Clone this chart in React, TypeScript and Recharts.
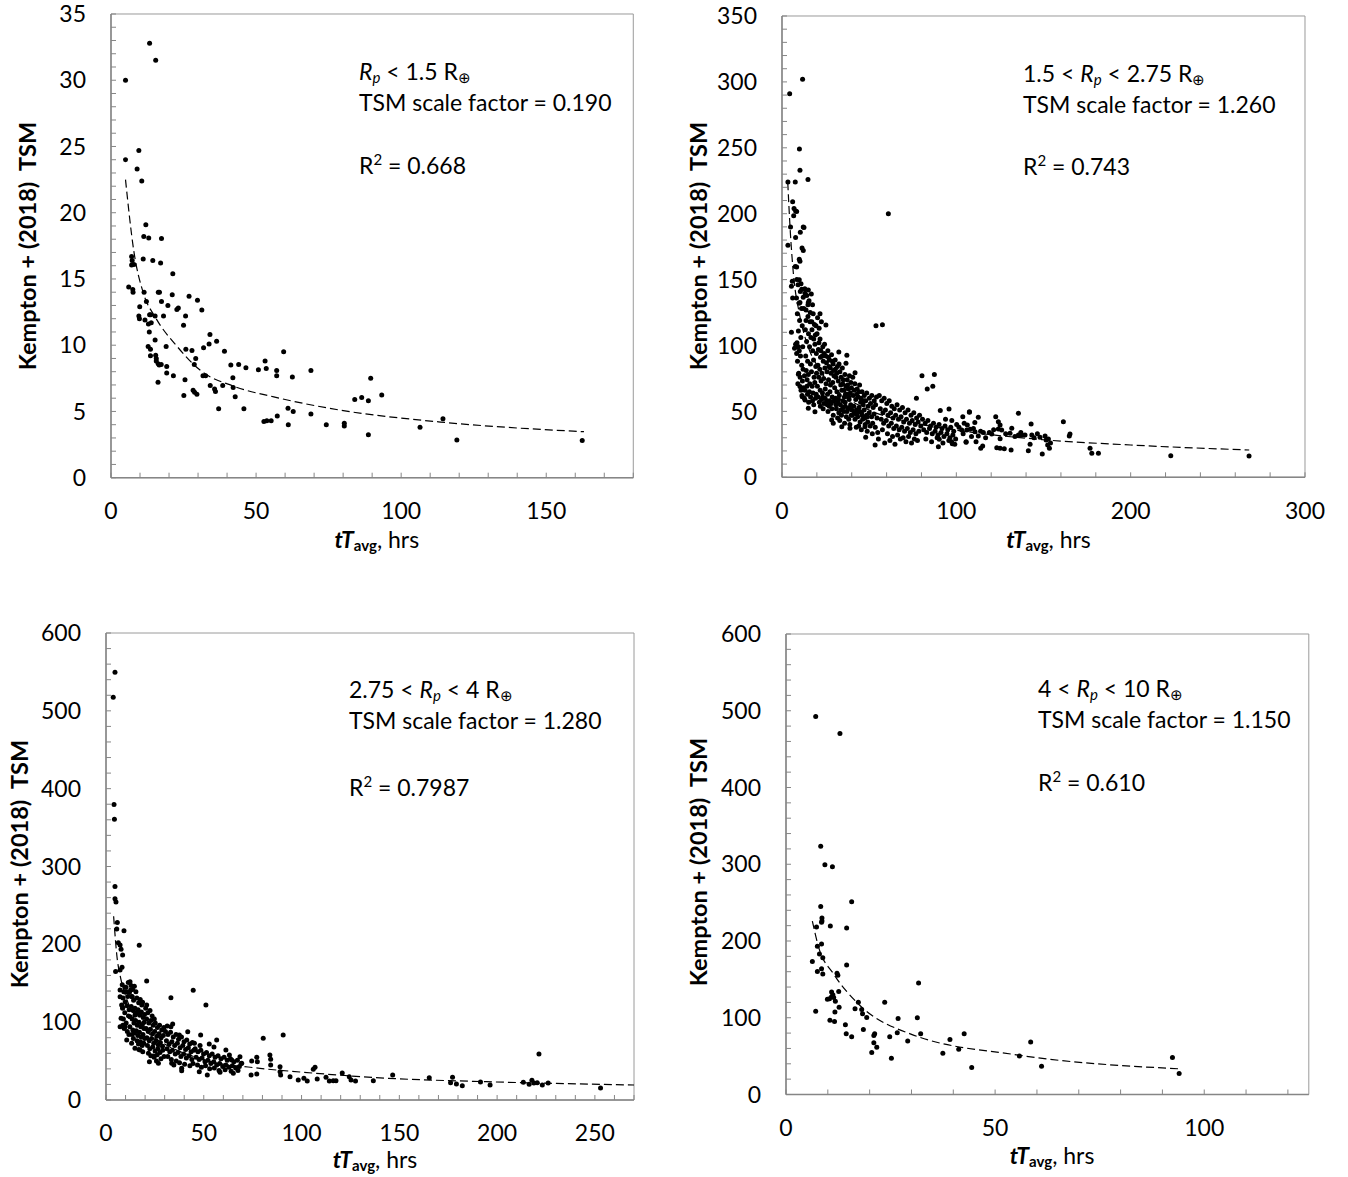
import React from 'react'
import { ScatterChart, Scatter, XAxis, YAxis, ReferenceArea } from 'recharts'

type Pt = [number, number]

const FONT = 'Lato, "Open Sans", sans-serif'

// ---- Rp < 1.5 Re ----
const smallPlanets: Pt[] = [
  [5, 30], [13.3, 32.8], [15.4, 31.5], [5, 24], [9.6, 24.7], [9, 23.3], [10.6, 22.4], [12, 19.1],
  [11.3, 18.2], [13, 18.1], [17.4, 18.05], [7.1, 16.7], [7.3, 16.4], [7.1, 16.05], [7.9, 16.1],
  [11.1, 16.5], [14.4, 16.4], [17.1, 16.2], [21.3, 15.4], [6.1, 14.4], [7.5, 14.2], [7.6, 14],
  [11.4, 14], [16.3, 14], [16.7, 14], [21.1, 13.8], [26.9, 13.7], [29.8, 13.4], [17.4, 13.3],
  [12.2, 13.3], [19.6, 13], [22.7, 12.7], [23.2, 12.8], [31.3, 12.65], [9.9, 12.9], [13.3, 12.3],
  [13.7, 12.3], [15.2, 12.2], [18.1, 12.2], [25.7, 12.2], [9.6, 12.2], [9.8, 12], [11.7, 11.9],
  [12.9, 11.6], [13.9, 11.7], [25, 11.5], [13.2, 11], [34.1, 10.8], [15.2, 10.4], [36.4, 10.3],
  [33.8, 10.1], [12.8, 9.9], [13.6, 9.7], [19, 9.9], [25.8, 9.7], [31.9, 9.8], [27.9, 9.6],
  [39.1, 9.55], [59.5, 9.5], [13.6, 9.2], [15.4, 9.25], [15.6, 9], [29.2, 9], [15.6, 8.8],
  [16.2, 8.6], [16.6, 8.5], [17.3, 8.55], [28.7, 8.55], [19.2, 8.4], [53.1, 8.8], [41.3, 8.5],
  [44, 8.55], [46.5, 8.3], [50.8, 8.15], [53.5, 8.25], [57.1, 8.1], [57.1, 7.7], [68.9, 8.1],
  [19.2, 7.9], [21.5, 7.7], [31.7, 7.7], [32.6, 7.7], [42, 7.55], [62.5, 7.6], [89.5, 7.5],
  [16.2, 7.2], [25.5, 7.4], [34.2, 6.95], [38.5, 6.95], [42.1, 6.8], [35.7, 6.7], [36, 6.5],
  [28.3, 6.6], [28.8, 6.45], [29.6, 6.3], [25.1, 6.2], [42.8, 6.1], [93.3, 6.25], [84, 5.9],
  [86.4, 6.05], [88.7, 5.8], [37.1, 5.2], [45.8, 5.2], [61, 5.25], [62.8, 5], [68.9, 4.8],
  [57.3, 4.65], [114.4, 4.45], [52.7, 4.25], [53.7, 4.3], [55.2, 4.3], [61.1, 4], [74.2, 4],
  [80.4, 4.1], [80.4, 3.9], [106.5, 3.8], [88.7, 3.25], [119.2, 2.85], [162.4, 2.8],
]
const smallFit: Pt[] = [
  [5, 22.5], [7.8, 17.2], [11.2, 13.9], [15.3, 12.1], [22.8, 9.9], [30.8, 8.1], [42.3, 6.9],
  [56.1, 6.1], [79, 5.1], [113.6, 4.2], [163, 3.47],
]

// ---- 1.5 < Rp < 2.75 Re ----
const superEarths: Pt[] = [
  // sparse / outliers
  [4.4, 291], [11.8, 302], [10, 249], [10.3, 233], [14.9, 226], [3.4, 224], [7.6, 224], [61, 200],
  [6.1, 209], [6.9, 204], [7.8, 202], [4.9, 190], [12.2, 190], [10.5, 186], [3.4, 176], [11.5, 174],
  [12.2, 172], [7.8, 182], [7.6, 160], [10.3, 164], [5.4, 145], [6.1, 136], [8.3, 136], [5.4, 110],
  [6.7, 198.4], [8.4, 201.7], [12.6, 189.5], [9.9, 165.5], [8.4, 159.5], [5.9, 148.8], [9.9, 149.8],
  [10.9, 146.8], [11.3, 142.7], [15.1, 142.2], [13.2, 139.7], [12.2, 136.7], [10.3, 132.6], [15.1, 132.6],
  [53.9, 115], [57.6, 115.7], [80.3, 77], [87.4, 78], [83.3, 67], [86.5, 69], [77.1, 60], [32.6, 95],
  [37.2, 92.6], [21.8, 124], [25.2, 115.6], [36.7, 86.5], [41.9, 79.4], [53.4, 24.5], [48, 30.4],
  [90.8, 50.6], [95.8, 51.9], [107.5, 49.4], [89.7, 23.2], [90.2, 28.9], [97.3, 27], [97.7, 25.5],
  [105.6, 26.6], [9.4, 78.2], [8.4, 94], [9.4, 99], [10.3, 68.8], [11.6, 61.2], [13.2, 58.7],
  [15.1, 52.4], [18.9, 49.8], [28.5, 43.5], [29.4, 41], [34.3, 38.4], [39, 37.2], [47.6, 38.4],
  [107.5, 49.8], [112.6, 45.5], [103.7, 46], [110.6, 41.5], [106.3, 39.7], [103.1, 35.9], [106, 35.9],
  [107.9, 36.4], [110.7, 34.6], [112.6, 31.4], [115.5, 33.9], [111.3, 27], [105.6, 27], [115.1, 23.8],
  [114, 22], [120.3, 32.9], [122.6, 46], [124.1, 42.2], [125.1, 39.7], [124.1, 36.7], [126, 35.9],
  [125.1, 29.3], [123.2, 22.5], [125.1, 22], [127.5, 21.7], [131.4, 20.7], [131.8, 37.2], [130.8, 33.4],
  [135.6, 32.1], [137.5, 32.1], [139.4, 32.1], [143.3, 32.1], [135.6, 48.6], [142.9, 40.5], [142.3, 25],
  [141.3, 20.2], [148, 30.4], [150.9, 31.4], [151.5, 28.3], [152.4, 24.5], [153.4, 22], [149.3, 17.7],
  [161.4, 42.2], [165.2, 32.9], [164.8, 31.4], [176.7, 22], [177.7, 18.2], [181.5, 18.2], [223, 16.4],
  [267.9, 16.2],
  // dense cloud, x 8-12
  [8.5, 150], [9.2, 146], [10.5, 141], [9.8, 132], [11.2, 128], [8.8, 124], [10.1, 119], [11.6, 115],
  [9.4, 111], [10.8, 106], [8.6, 102], [11.9, 99], [9.9, 96], [10.6, 92], [8.9, 88], [11.3, 85],
  [12.1, 82], [9.6, 79], [10.4, 76], [11.7, 73], [9.1, 71], [12.4, 68], [10.9, 66], [11.5, 62],
  [12.8, 60], [7.2, 98], [7.8, 101],
  // x 12-20
  [13.1, 143], [14.2, 138], [15.5, 134], [16.8, 139], [17.5, 131], [13.8, 127], [14.9, 122], [16.1, 118],
  [17.9, 124], [18.6, 116], [13.4, 112], [15.2, 109], [16.6, 106], [17.2, 112], [19.1, 108], [14.1, 103],
  [15.8, 99], [17.6, 96], [18.9, 101], [19.7, 94], [13.6, 92], [14.7, 88], [16.3, 86], [18.1, 89],
  [19.4, 84], [13.9, 81], [15.1, 78], [16.9, 80], [18.4, 76], [19.8, 79], [14.4, 74], [15.9, 71],
  [17.3, 69], [18.8, 72], [13.2, 66], [14.6, 63], [16.4, 61], [17.8, 64], [19.2, 60], [15.3, 57],
  [18.2, 55], [12.5, 128], [13.8, 119], [14.9, 131], [16.2, 125], [17.1, 118], [18.2, 105], [19.5, 115],
  [12.9, 77], [14.3, 69], [15.7, 65], [17.5, 58], [19.6, 63],
  // x 20-30
  [20.4, 121], [21.3, 113], [22.6, 118], [21.8, 105], [23.4, 99], [24.2, 94], [20.9, 97], [22.1, 91],
  [23.7, 88], [25.1, 92], [26.3, 96], [27.2, 89], [28.4, 93], [29.3, 86], [20.6, 85], [21.7, 82],
  [22.9, 79], [24.6, 83], [25.8, 80], [26.9, 84], [28.1, 79], [29.6, 81], [21.1, 76], [22.4, 73],
  [23.9, 75], [25.3, 71], [26.7, 74], [27.8, 70], [29.1, 72], [20.3, 69], [21.9, 66], [23.2, 64],
  [24.8, 67], [26.1, 63], [27.5, 65], [28.8, 61], [22.7, 59], [24.1, 56], [25.6, 58], [27.1, 54],
  [28.6, 52], [21.4, 57], [23.6, 52], [26.4, 50], [29.4, 47], [20.1, 109], [21.2, 102], [22.3, 96],
  [23.1, 92], [24.4, 101], [25.5, 87], [26.6, 91], [27.7, 83], [28.9, 88], [29.8, 77], [20.7, 61],
  [22, 54], [23.3, 61], [24.7, 60], [26, 55], [27.3, 58], [28.3, 56], [29.9, 58],
  // x 30-50
  [30.5, 89], [31.8, 84], [33.2, 80], [34.6, 83], [36.1, 78], [37.4, 74], [38.7, 77], [39.5, 72],
  [30.9, 76], [32.3, 73], [33.7, 70], [35.2, 74], [36.6, 69], [38.1, 67], [39.2, 64], [30.2, 68],
  [31.5, 65], [32.9, 62], [34.3, 66], [35.8, 61], [37.1, 63], [38.5, 59], [30.7, 60], [32.1, 57],
  [33.5, 55], [34.9, 58], [36.3, 54], [37.8, 52], [39.4, 55], [31.2, 52], [32.6, 49], [34.1, 47],
  [35.5, 50], [36.9, 46], [38.3, 44], [39.7, 47], [33.1, 43], [35.9, 41], [38.9, 40], [31.9, 45],
  [30.6, 82], [31.4, 79], [32.7, 86], [33.9, 76], [34.8, 71], [35.6, 66], [36.4, 63], [37.6, 70],
  [38.4, 61], [39.8, 68], [31, 55], [32.4, 59], [33.8, 51], [35, 53], [36.2, 57], [37.3, 50],
  [38.7, 53], [40, 51], [41.5, 49], [43, 48], [44.6, 50], [46, 47], [47.5, 45], [49, 46],
  [41.4, 66], [42.9, 63], [44.1, 65], [45.3, 60], [46.9, 58],
  // x 40-55
  [40.6, 76], [41.8, 71], [43.1, 67], [44.5, 70], [45.9, 65], [47.2, 62], [48.6, 64], [50.1, 60],
  [51.5, 62], [52.9, 58], [54.2, 61], [40.9, 62], [42.3, 59], [43.7, 61], [45.1, 57], [46.6, 55],
  [48, 58], [49.4, 54], [50.8, 56], [52.3, 53], [53.7, 55], [41.2, 54], [42.7, 51], [44.2, 53],
  [45.6, 49], [47.1, 51], [48.5, 47], [50, 49], [51.4, 46], [52.8, 48], [54.5, 45], [40.4, 47],
  [41.9, 44], [43.4, 46], [44.8, 42], [46.3, 44], [47.7, 40], [49.2, 42], [50.6, 39], [52, 41],
  [53.5, 38], [42.6, 38], [45.5, 36], [48.9, 35], [51.8, 33], [54.9, 34], [44, 39],
  // x 55-80
  [55.8, 62], [57.2, 58], [58.6, 60], [60.1, 56], [61.5, 58], [63, 54], [64.4, 52], [66, 55],
  [67.5, 51], [69.1, 53], [70.6, 49], [72.3, 51], [74, 47], [75.6, 49], [77.2, 45], [78.9, 47],
  [56.4, 52], [57.9, 49], [59.3, 51], [60.8, 47], [62.3, 49], [63.7, 45], [65.2, 47], [66.8, 44],
  [68.3, 46], [69.8, 42], [71.4, 44], [73.1, 41], [74.7, 43], [76.4, 40], [78.1, 42], [79.6, 39],
  [56.9, 44], [58.3, 41], [59.8, 43], [61.2, 39], [62.7, 41], [64.1, 37], [65.6, 39], [67.2, 36],
  [68.7, 38], [70.3, 35], [71.9, 37], [73.6, 34], [75.2, 36], [76.8, 33], [78.5, 35], [57.6, 36],
  [60.5, 33], [63.4, 31], [66.3, 32], [69.5, 30], [72.6, 31], [75.9, 29], [55.3, 29], [58.9, 26],
  [61.9, 28], [64.8, 25], [67.9, 29], [71.1, 27], [74.3, 26], [77.7, 28],
  // x 80-155
  [80.6, 44], [82.1, 41], [83.7, 43], [85.2, 39], [86.9, 41], [88.4, 38], [90.1, 40], [91.8, 37],
  [93.5, 39], [95.1, 36], [96.8, 38], [98.5, 35], [81.3, 36], [83, 34], [84.6, 37], [86.2, 33],
  [87.8, 35], [89.5, 32], [91.2, 34], [92.9, 31], [94.6, 33], [96.3, 30], [98, 32], [99.6, 29],
  [82.5, 29], [85.8, 27], [89, 30], [92.3, 26], [95.7, 28], [99.1, 25], [93.8, 44], [97.4, 43],
  [100.2, 40], [101.5, 38], [103.9, 33], [104.5, 41], [108.7, 31], [109.8, 37], [113.9, 35], [116.8, 30],
  [118.9, 34], [121.4, 36], [128.3, 33], [133.6, 31], [137, 34], [144.6, 30], [146.5, 33], [152.8, 29],
  [154, 26],
]
const superEarthFit: Pt[] = [
  [3.3, 224], [4.6, 190], [6.5, 155], [10, 124], [15, 99], [20, 85], [30, 68], [50, 51],
  [75, 41.5], [102, 35.4], [150, 28.5], [200, 24.5], [268, 20.7],
]

// ---- 2.75 < Rp < 4 Re ----
const subNeptunes: Pt[] = [
  [4.6, 549.7], [3.7, 517.6], [4.1, 379.6], [4.3, 360.8], [4.6, 274.2], [4.6, 258.7], [5.1, 254.5],
  [5.8, 227.9], [5.5, 219.8], [9.2, 217.6], [6.3, 202], [7.2, 199], [7.7, 193.6], [8.5, 186.3],
  [17, 198.8], [4.9, 165], [7.2, 167], [8.2, 170.5], [20.8, 153], [33.2, 131.5], [44.6, 141],
  [51.1, 122.1], [7.2, 141.4], [9.7, 144.8], [12.3, 152], [7.2, 132.8], [10.6, 139.2], [12.6, 141.4],
  [13.4, 132.8], [8, 122], [8.5, 119], [18.7, 125.6], [20.8, 122], [7.7, 105], [12.3, 107],
  [14.8, 109], [17.4, 111.4], [7.2, 94.2], [9.7, 94.2], [10.6, 77], [13.1, 72.9], [14.8, 66.4],
  [17.4, 64.2], [21.7, 60], [24.2, 56.6], [22.2, 49.3], [26.8, 47.1], [33.6, 47.1], [38.7, 40.8],
  [38.7, 37.7], [33.2, 94.2], [34.1, 97.7], [31.3, 95], [37.5, 83.5], [41.8, 87.8], [48.4, 83.5],
  [56.6, 77.1], [52.8, 71.9], [47.7, 36.4], [51.8, 32.1], [58.3, 35.6], [61.3, 64.3], [63.1, 57.8],
  [64.3, 51.4], [65.1, 34.3], [68.5, 55.7], [69.4, 47.2], [74.5, 50.1], [77.1, 54.9], [77.4, 49.3],
  [74.2, 32.1], [77.1, 33.4], [80.4, 79.3], [83.8, 57.8], [84.2, 52.3], [84.2, 44.9], [90.6, 83.5],
  [89, 42.8], [89, 36.4], [89.3, 32.1], [94.1, 30], [98.3, 25.7], [101.2, 27.9], [102.9, 24.4],
  [106, 39.4], [106.9, 42], [108, 27], [112.5, 29.2], [114.2, 24.4], [116.2, 24.8], [117.6, 24.8],
  [120.8, 34.7], [124.4, 29.9], [125.3, 25.7], [127.6, 24.4], [136.7, 24.8], [146.6, 32.1], [165.3, 28.7],
  [176.2, 22.3], [177.2, 29.2], [179.2, 20.6], [182.2, 18.4], [191.5, 23.1], [196.4, 19.3], [213.4, 22.7],
  [216.4, 20.2], [217.8, 25.3], [218.8, 21.9], [220.5, 22.3], [223.1, 19.3], [226.1, 21.9], [221.4, 59.1],
  [252.9, 15.4],
  // dense cloud, x 8-12
  [8.3, 148], [9.1, 139], [10.2, 145], [11.4, 151], [8.7, 131], [9.8, 126], [11.1, 133], [12, 138],
  [8.5, 118], [9.6, 112], [10.7, 121], [11.8, 116], [8.9, 104], [10.3, 99], [11.5, 108], [12.2, 94],
  [9.3, 92], [10.9, 88], [11.7, 84], [8.6, 96],
  // x 12-20
  [12.8, 147], [13.6, 142], [14.5, 146], [15.3, 139], [13.2, 133], [14.1, 128], [15.8, 131], [16.7, 125],
  [17.5, 129], [18.3, 122], [12.9, 120], [13.9, 115], [14.8, 118], [15.6, 112], [16.4, 116], [17.2, 109],
  [18.1, 113], [19, 106], [19.7, 110], [13.4, 104], [14.3, 99], [15.1, 102], [16, 96], [16.9, 100],
  [17.8, 94], [18.6, 97], [19.4, 92], [13.7, 90], [14.6, 86], [15.5, 89], [16.3, 83], [17.1, 87],
  [18, 81], [18.9, 84], [19.8, 79], [14, 79], [15.9, 76], [16.6, 72], [17.6, 75], [18.5, 70],
  [19.3, 73], [16.8, 65], [18.8, 62], [13.3, 84], [19.5, 100],
  // x 20-30
  [20.3, 118], [21.4, 112], [22.5, 115], [23.6, 108], [24.7, 104], [20.8, 104], [21.9, 99], [23, 102],
  [24.1, 96], [25.2, 99], [26.3, 93], [27.4, 96], [28.5, 90], [29.6, 93], [20.5, 92], [21.6, 88],
  [22.7, 91], [23.8, 85], [24.9, 88], [26, 82], [27.1, 85], [28.2, 80], [29.3, 83], [20.9, 80],
  [22.1, 76], [23.3, 79], [24.4, 73], [25.6, 76], [26.7, 71], [27.8, 74], [28.9, 69], [21.2, 70],
  [22.4, 66], [23.9, 68], [25.1, 63], [26.5, 66], [27.6, 61], [29, 64], [22.9, 57], [24.6, 55],
  [26.2, 58], [28.1, 53], [29.7, 56], [25.8, 50],
  // x 30-45
  [30.4, 88], [31.7, 84], [33, 87], [34.4, 81], [35.8, 84], [37.1, 78], [38.6, 81], [39.9, 75],
  [41.3, 77], [42.8, 72], [44.2, 74], [30.9, 76], [32.3, 72], [33.7, 75], [35.1, 70], [36.5, 73],
  [37.9, 67], [39.3, 70], [40.7, 65], [42.1, 67], [43.5, 62], [44.9, 64], [31.2, 66], [32.6, 62],
  [34, 64], [35.4, 59], [36.9, 61], [38.3, 56], [39.7, 59], [41.1, 54], [42.5, 57], [43.9, 52],
  [31.6, 56], [33.4, 52], [35.9, 50], [37.6, 48], [40.2, 46], [42.9, 44], [44.5, 47], [34.7, 45],
  // x 45-70
  [45.6, 66], [47, 62], [48.5, 64], [49.9, 59], [51.4, 61], [52.8, 57], [54.3, 59], [55.8, 55],
  [57.3, 57], [58.8, 53], [60.4, 55], [62, 51], [63.6, 53], [65.4, 49], [67.2, 51], [69.1, 47],
  [46.1, 55], [47.6, 52], [49.1, 54], [50.6, 49], [52.1, 51], [53.6, 47], [55.1, 49], [56.6, 45],
  [58.1, 47], [59.7, 43], [61.3, 45], [62.9, 42], [64.6, 44], [66.3, 41], [68.2, 43], [46.8, 45],
  [48.8, 42], [50.9, 44], [53, 40], [55.4, 41], [57.8, 38], [60.9, 39], [64, 37], [67.5, 38],
  [45.2, 73], [48.1, 70], [55.2, 68],
]
const subNeptuneFit: Pt[] = [
  [3.9, 236], [5.8, 180], [7.2, 160], [10, 134], [15, 107], [20, 90], [30, 72], [50, 52],
  [78.7, 40.7], [99.2, 36], [143.5, 28], [194.6, 23.5], [270, 19.3],
]

// ---- 4 < Rp < 10 Re ----
const giants: Pt[] = [
  [7.1, 492.5], [12.9, 470.4], [8.3, 323.3], [9.3, 299.3], [11.1, 296.9], [15.7, 251.2], [8.3, 245.1],
  [8.6, 230], [8.6, 226.2], [8.5, 224.3], [7.3, 218.2], [10.6, 219.6], [14.5, 216.8], [7.5, 193.2],
  [8.5, 196.1], [8, 182.9], [8.8, 178.2], [6.3, 173.4], [14.5, 168.7], [7.5, 160.3], [8.5, 164],
  [8.8, 157], [12.2, 157.9], [12.4, 155.5], [10.9, 133.4], [11.2, 130.1], [12.6, 134.3], [9.9, 124],
  [10.4, 124.9], [11.4, 126.3], [10.9, 127.3], [11.8, 121.6], [17.3, 120.2], [23.6, 120.2], [31.7, 145.2],
  [7.1, 108.4], [11.7, 107.5], [12.7, 113.6], [16.5, 111.7], [18.1, 110.8], [18.3, 105.1], [19.3, 100.4],
  [10.5, 96.6], [11.6, 95.2], [14.2, 91], [18.5, 84.8], [14.4, 79.2], [21.2, 79.2], [21, 76.8],
  [15.7, 75.4], [26.8, 99], [31.4, 99.9], [26.6, 80.6], [32.2, 79.2], [42.6, 79.2], [24.8, 75.4],
  [29.1, 69.8], [39.2, 71.6], [41.3, 58.9], [21, 67.4], [21.7, 61.7], [20.5, 54.7], [37.5, 53.7],
  [25.2, 47.1], [44.4, 35.3], [55.8, 50], [58.5, 68.3], [61.1, 36.8], [92.4, 48.1], [94, 27.3],
]
const giantFit: Pt[] = [
  [6.3, 226], [7.8, 192], [11.4, 157], [17.5, 117], [29.7, 79], [56, 51], [94, 33.5],
]

const range = (a: number, b: number, s: number) => {
  const out: number[] = []
  for (let v = a; v <= b + 1e-9; v += s) out.push(v)
  return out
}

const panels = [
  {
    left: 110.7, top: 14, w: 522.3, h: 463.7, xMax: 180, yMax: 35,
    xMajor: [0, 50, 100, 150], xStep: 10, yMajor: [0, 5, 10, 15, 20, 25, 30, 35], yStep: 1,
    pts: smallPlanets, fit: smallFit,
    yTitle: { x: 27.7, y: 246 }, xTitleY: 539,
    ann: { x: 359, y: [71, 102, 165] }, range: ['', '< 1.5'], sf: '0.190', r2: '0.668',
  },
  {
    left: 782, top: 16, w: 523, h: 461.3, xMax: 300, yMax: 350,
    xMajor: [0, 100, 200, 300], xStep: 20, yMajor: [0, 50, 100, 150, 200, 250, 300, 350], yStep: 10,
    pts: superEarths, fit: superEarthFit,
    yTitle: { x: 699, y: 246 }, xTitleY: 539,
    ann: { x: 1023, y: [73, 103.5, 166] }, range: ['1.5 < ', '< 2.75'], sf: '1.260', r2: '0.743',
  },
  {
    left: 106, top: 633, w: 528, h: 467, xMax: 270, yMax: 600,
    xMajor: [0, 50, 100, 150, 200, 250], xStep: 10, yMajor: [0, 100, 200, 300, 400, 500, 600], yStep: 20,
    pts: subNeptunes, fit: subNeptuneFit,
    yTitle: { x: 19.5, y: 864 }, xTitleY: 1159,
    ann: { x: 349, y: [688.6, 720, 787] }, range: ['2.75 < ', '< 4'], sf: '1.280', r2: '0.7987',
  },
  {
    left: 785.7, top: 633.5, w: 522.8, h: 460.5, xMax: 125, yMax: 600,
    xMajor: [0, 50, 100], xStep: 10, yMajor: [0, 100, 200, 300, 400, 500, 600], yStep: 20,
    pts: giants, fit: giantFit,
    yTitle: { x: 699, y: 862 }, xTitleY: 1155,
    ann: { x: 1038, y: [688, 719, 782] }, range: ['4 < ', '< 10'], sf: '1.150', r2: '0.610',
  },
]

const AXIS = '#868686'
const FS = 23
const TICK_FONT = { fontSize: FS, fill: '#000', fontFamily: FONT }

const Dot = (props: any) => <circle cx={props.cx} cy={props.cy} r={2.5} fill="#000" />
const NoDot = () => <g />

function Panel({ p }: { p: any }) {
  const mL = 100, mT = 24, mR = 44, xH = 70
  const width = p.w + mL + mR
  const height = p.h + mT + xH
  const pts = p.pts.map(([x, y]: Pt) => ({ x, y }))
  const fit = p.fit.map(([x, y]: Pt) => ({ x, y }))
  const xAll = range(0, p.xMax, p.xStep)
  const yAll = range(0, p.yMax, p.yStep)
  const lineStyle = { position: 'absolute' as const, left: p.ann.x, height: 24, lineHeight: '24px', whiteSpace: 'nowrap' as const, fontSize: FS }
  const sub = { fontSize: 15, lineHeight: 0, verticalAlign: '-3px' }
  return (
    <>
      <div style={{ position: 'absolute', left: p.left - mL, top: p.top - mT }}>
        <ScatterChart width={width} height={height} margin={{ top: mT, right: mR, bottom: 0, left: 0 }}>
          <ReferenceArea x1={0} x2={p.xMax} y1={0} y2={p.yMax} fill="#fff" fillOpacity={0} stroke="#9a9a9a" strokeWidth={1} ifOverflow="visible" />
          <XAxis
            type="number" dataKey="x" domain={[0, p.xMax]} ticks={xAll} interval={0} height={xH}
            tickFormatter={(v: number) => (p.xMajor.includes(v) ? String(v) : '')}
            tickSize={-5} tickMargin={30} tickLine={{ stroke: AXIS }} tick={TICK_FONT}
            axisLine={{ stroke: AXIS, strokeWidth: 1.5 }} allowDataOverflow
          />
          <YAxis
            type="number" dataKey="y" domain={[0, p.yMax]} ticks={yAll} interval={0} width={mL}
            tickFormatter={(v: number) => (p.yMajor.includes(v) ? String(v) : '')}
            tickSize={-5} tickMargin={30} tickLine={{ stroke: AXIS }} tick={TICK_FONT}
            axisLine={{ stroke: AXIS, strokeWidth: 1.5 }} allowDataOverflow
          />
          <Scatter data={fit} line={{ stroke: '#000', strokeWidth: 1.2, strokeDasharray: '8 4' }} lineJointType="monotoneX" shape={NoDot} isAnimationActive={false} />
          <Scatter data={pts} shape={Dot} isAnimationActive={false} />
        </ScatterChart>
      </div>
      <div style={{
        position: 'absolute', left: p.yTitle.x, top: p.yTitle.y, transform: 'translate(-50%, -50%) rotate(-90deg)',
        whiteSpace: 'nowrap', fontWeight: 700, fontSize: 23.5, lineHeight: 1,
      }}>
        Kempton + (2018)&nbsp;&nbsp;TSM
      </div>
      <div style={{
        position: 'absolute', left: p.left + p.w / 2 + 5, top: p.xTitleY, transform: 'translate(-50%, -50%)',
        whiteSpace: 'nowrap', fontSize: FS, lineHeight: 1,
      }}>
        <b><i>tT</i><sub style={sub}>avg</sub></b>, hrs
      </div>
      <div style={{ ...lineStyle, top: p.ann.y[0] - 12 }}>
        {p.range[0]}<i>R</i><sub style={sub}><i>p</i></sub> {p.range[1]} R<sub style={sub}>⊕</sub>
      </div>
      <div style={{ ...lineStyle, top: p.ann.y[1] - 12 }}>TSM scale factor = {p.sf}</div>
      <div style={{ ...lineStyle, top: p.ann.y[2] - 12 }}>R<sup style={{ fontSize: 15, lineHeight: 0 }}>2</sup> = {p.r2}</div>
    </>
  )
}

export default function App() {
  return (
    <div style={{ position: 'absolute', left: 0, top: 0, width: 1348, height: 1177, background: '#fff', fontFamily: FONT, color: '#000', overflow: 'hidden' }}>
      {panels.map((p, i) => <Panel key={i} p={p} />)}
    </div>
  )
}
